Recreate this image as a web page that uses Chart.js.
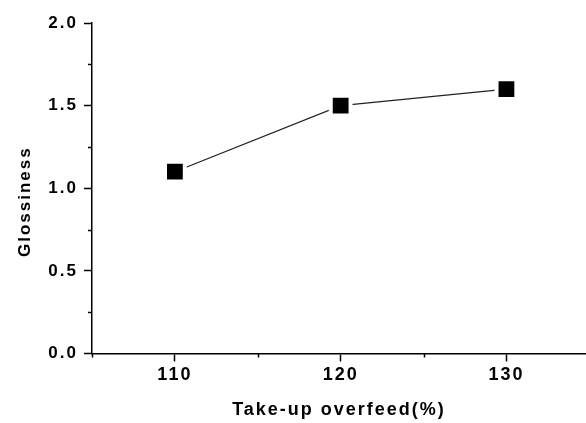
<!DOCTYPE html>
<html>
<head>
<meta charset="utf-8">
<script src="https://cdn.jsdelivr.net/npm/chart.js@4"></script>
<style>
  html, body { margin: 0; padding: 0; background: #fff; }
  #wrap { width: 586px; height: 423px; }
</style>
</head>
<body>
<div id="wrap"><canvas id="glossChart" width="586" height="423"></canvas></div>
<script>
// ---- data ----
const overfeed = [110, 120, 130];          // take-up overfeed (%)
const glossiness = [1.1, 1.5, 1.6];

const xTicks = [105, 110, 115, 120, 125, 130];
const xLabelled = [110, 120, 130];
const yTicks = [0, 0.25, 0.5, 0.75, 1, 1.25, 1.5, 1.75, 2];
const yLabelled = [0, 0.5, 1, 1.5, 2];

const INK = '#000';
const FONT = 'Liberation Sans, Arial, sans-serif';

// minor ticks are shorter than the major ones
const minorTicks = {
    id: 'minorTicks',
    beforeLayout(chart) { chart.ctx.letterSpacing = '2px'; },
    beforeDraw(chart) { chart.ctx.letterSpacing = '2px'; },
    afterDraw(chart) {
        const { ctx, scales: { x, y }, chartArea } = chart;
        ctx.save();
        ctx.strokeStyle = INK;
        ctx.lineWidth = 1.5;
        ctx.beginPath();
        xTicks.filter(v => !xLabelled.includes(v)).forEach(v => {
            const px = Math.round(x.getPixelForValue(v)) + 0.5;
            ctx.moveTo(px, chartArea.bottom);
            ctx.lineTo(px, chartArea.bottom + 4);
        });
        yTicks.filter(v => !yLabelled.includes(v)).forEach(v => {
            const py = Math.round(y.getPixelForValue(v)) + 0.5;
            ctx.moveTo(chartArea.left, py);
            ctx.lineTo(chartArea.left - 4, py);
        });
        ctx.stroke();
        ctx.restore();
    }
};

new Chart(document.getElementById('glossChart'), {
    type: 'line',
    data: {
        datasets: [{
            data: overfeed.map((v, i) => ({ x: v, y: glossiness[i] })),
            borderColor: '#222',
            borderWidth: 1.2,
            pointStyle: 'rect',
            pointRadius: 14,
            pointBackgroundColor: INK,
            pointBorderColor: '#fff',
            pointBorderWidth: 4,
            tension: 0,
            fill: false,
        }]
    },
    options: {
        responsive: false,
        animation: false,
        layout: { autoPadding: false, padding: { top: 23, right: 0, bottom: 0, left: 0 } },
        plugins: { legend: { display: false }, tooltip: { enabled: false } },
        scales: {
            x: {
                type: 'linear',
                min: 105,
                max: 134.8,
                afterBuildTicks: (s) => { s.ticks = xTicks.map(v => ({ value: v })); },
                afterFit: (s) => { s.height = 69.5; s.paddingRight = 0; s.paddingLeft = 0; },
                border: { color: INK, width: 1.5 },
                grid: {
                    drawOnChartArea: false,
                    tickLength: 8,
                    tickWidth: 1.5,
                    tickColor: (c) => xLabelled.includes(c.tick.value) ? INK : 'rgba(0,0,0,0)'
                },
                ticks: {
                    color: INK,
                    padding: 3,
                    autoSkip: false,
                    maxRotation: 0,
                    font: { family: FONT, size: 18, weight: 'bold' },
                    callback: (v) => xLabelled.includes(v) ? String(v) : ''
                },
                title: {
                    display: true,
                    text: 'Take-up overfeed(%)',
                    color: INK,
                    font: { family: FONT, size: 18, weight: 'bold' },
                    padding: { top: 0, bottom: 2 }
                }
            },
            y: {
                min: 0,
                max: 2,
                afterBuildTicks: (s) => { s.ticks = yTicks.map(v => ({ value: v })); },
                afterFit: (s) => { s.width = 92; s.paddingTop = 0; s.paddingBottom = 0; },
                border: { color: INK, width: 1.5 },
                grid: {
                    drawOnChartArea: false,
                    tickLength: 8,
                    tickWidth: 1.5,
                    tickColor: (c) => yLabelled.includes(c.tick.value) ? INK : 'rgba(0,0,0,0)'
                },
                ticks: {
                    color: INK,
                    padding: 6,
                    autoSkip: false,
                    font: { family: FONT, size: 17, weight: 'bold' },
                    callback: (v) => yLabelled.includes(v) ? v.toFixed(1) : ''
                },
                title: {
                    display: true,
                    text: 'Glossiness    ',
                    color: INK,
                    font: { family: FONT, size: 17, weight: 'bold' },
                    padding: { top: 15, bottom: 0 }
                }
            }
        }
    },
    plugins: [minorTicks]
});
</script>
</body>
</html>
